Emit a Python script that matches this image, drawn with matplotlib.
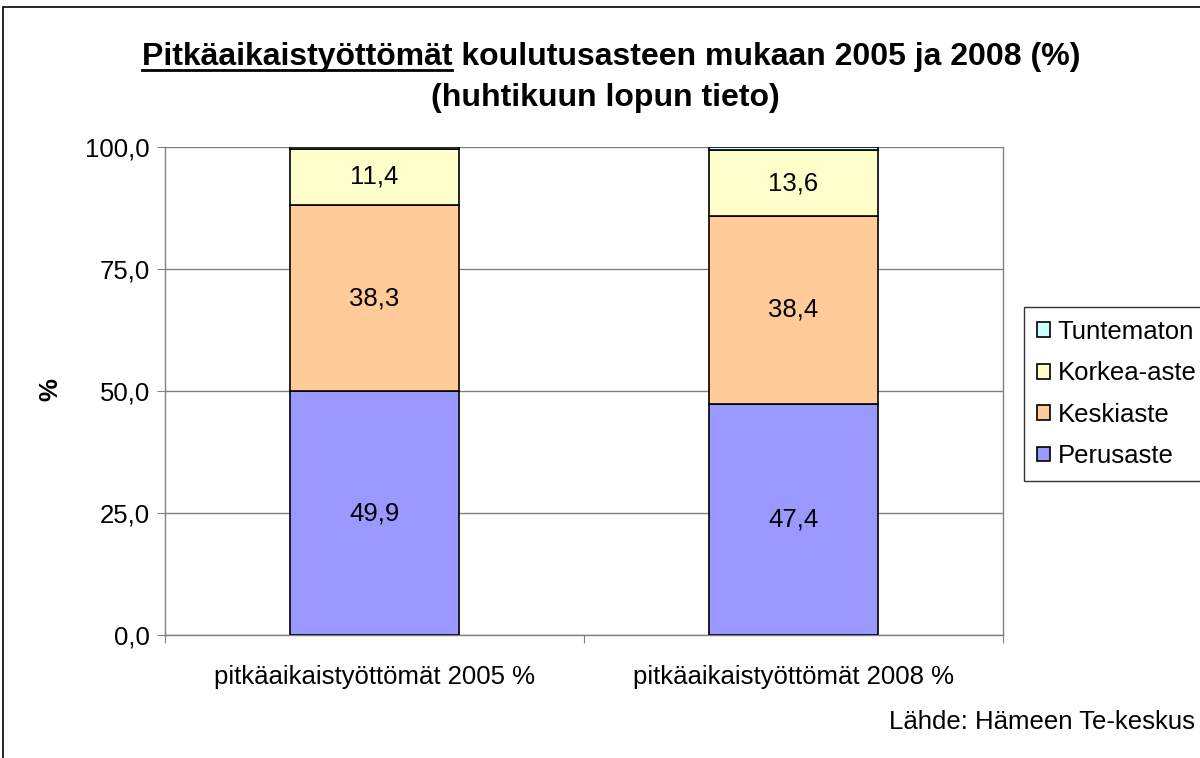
import matplotlib
matplotlib.use('Agg')
import matplotlib.pyplot as plt
from matplotlib.patches import Rectangle
from matplotlib.lines import Line2D

plt.rcParams['font.family'] = ['Liberation Sans', 'DejaVu Sans']

categories = ['pitkäaikaistyöttömät 2005 %', 'pitkäaikaistyöttömät 2008 %']
series_names = ['Perusaste', 'Keskiaste', 'Korkea-aste', 'Tuntematon']
perusaste = [49.9, 47.4]
keskiaste = [38.3, 38.4]
korkea_aste = [11.4, 13.6]
tuntematon = [0.4, 0.6]
colors = ['#9999FF', '#FFCC99', '#FFFFCC', '#CCFFFF']
y_ticks = [0, 25, 50, 75, 100]

FS = 18.5
TFS = 23

W, H = 1200, 758
fig = plt.figure(figsize=(W / 100, H / 100), dpi=100)
ax = fig.add_axes([165 / W, 1 - 635 / H, 838 / W, 488 / H])

# outer chart frame (runs off the right and bottom edges)
fig.patches.append(Rectangle((3 / W, -0.05), 1.2, 1 - 7 / H + 0.05,
                             transform=fig.transFigure, fill=False,
                             edgecolor='black', linewidth=1.2))

x = [0.5, 1.5]
bottom = [0.0, 0.0]
handles = []
for name, vals, col in zip(series_names, [perusaste, keskiaste, korkea_aste, tuntematon], colors):
    bars = ax.bar(x, vals, width=0.405, bottom=bottom, color=col,
                  edgecolor='black', linewidth=1.2, label=name, zorder=3)
    handles.append(bars)
    if name != 'Tuntematon':
        for xi, b, v in zip(x, bottom, vals):
            ax.text(xi, b + v / 2, f'{v:.1f}'.replace('.', ','), ha='center', va='center',
                    fontsize=FS, zorder=4)
    bottom = [b + v for b, v in zip(bottom, vals)]

ax.set_xlim(0, 2)
ax.set_ylim(0, 100)
ax.set_yticks(y_ticks)
ax.set_yticklabels([f'{t:.1f}'.replace('.', ',') for t in y_ticks], fontsize=FS)
ax.yaxis.grid(True, color='#808080', linewidth=1.0, zorder=0)
ax.set_xticks([0, 1, 2])
ax.set_xticklabels([])
ax.tick_params(axis='x', length=6, color='#808080')
ax.tick_params(axis='y', length=6, color='#808080', pad=5)
for xi, c in zip(x, categories):
    ax.text(xi, -6.2, c, ha='center', va='top', fontsize=FS, transform=ax.transData)
for s in ax.spines.values():
    s.set_color('#808080')
    s.set_linewidth(1.0)
ax.spines['top'].set_visible(False)

fig.text(50 / W, 1 - 390 / H, '%', rotation=90, ha='center', va='center',
         fontsize=FS, fontweight='bold')

# title with underlined first word
t1 = fig.text(611 / W, 1 - 57 / H, 'Pitkäaikaistyöttömät koulutusasteen mukaan 2005 ja 2008 (%)',
              ha='center', va='center', fontsize=TFS, fontweight='bold')
fig.text(605 / W, 1 - 98 / H, '(huhtikuun lopun tieto)', ha='center', va='center',
         fontsize=TFS, fontweight='bold')
fig.canvas.draw()
r = fig.canvas.get_renderer()
bb = t1.get_window_extent(r)
probe = fig.text(0, 0, 'Pitkäaikaistyöttömät', fontsize=TFS, fontweight='bold')
pw = probe.get_window_extent(r).width
probe.remove()
uy = bb.y0 + 2
fig.lines.append(Line2D([bb.x0 / W, (bb.x0 + pw) / W], [uy / H, uy / H],
                        transform=fig.transFigure, color='black', linewidth=2))

leg = fig.legend(handles[::-1], series_names[::-1], loc='upper left',
                 bbox_to_anchor=(1024 / W, 1 - 307 / H), fontsize=FS,
                 frameon=True, fancybox=False, handlelength=0.5, handleheight=0.5,
                 handletextpad=0.3, labelspacing=0.68, borderpad=0.5, borderaxespad=0)
leg.get_frame().set_edgecolor('black')
leg.get_frame().set_linewidth(1.0)

fig.text(1195 / W, 1 - 722 / H, 'Lähde: Hämeen Te-keskus', ha='right', va='center', fontsize=FS)

fig.savefig('out.png', dpi=100)
